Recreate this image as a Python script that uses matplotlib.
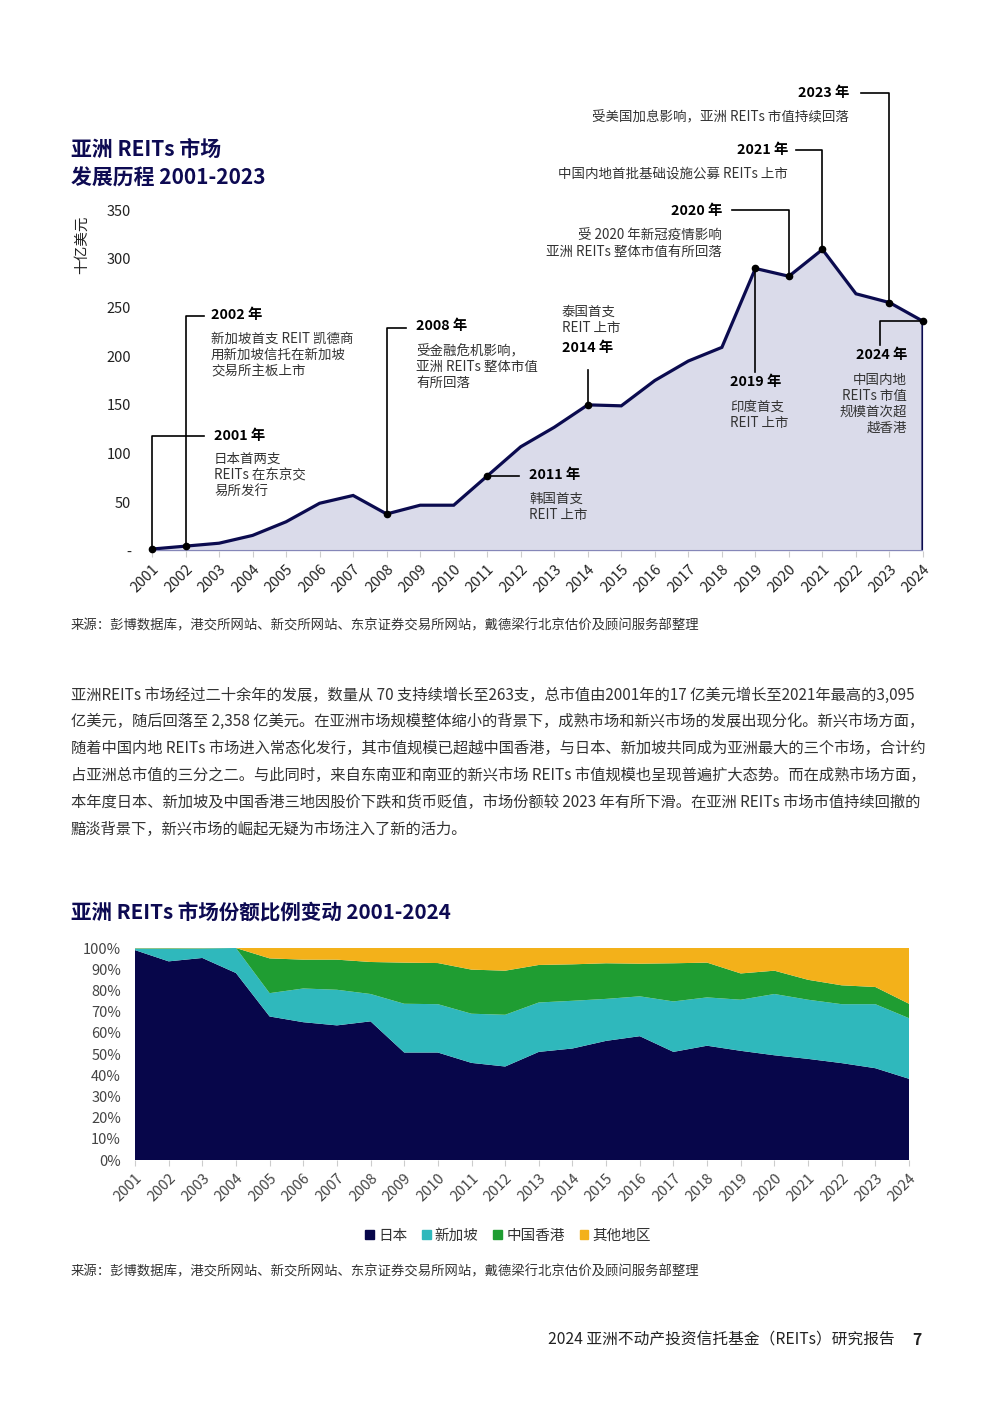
import matplotlib
matplotlib.use('Agg')
import matplotlib.pyplot as plt
from matplotlib.transforms import Affine2D
from matplotlib.patches import Patch

plt.rcParams['font.family'] = ['Noto Sans CJK SC', 'DejaVu Sans']

W, H = 992, 1403

# market cap of Asian REITs, USD bn
years = list(range(2001, 2025))
market_cap = [2, 5, 8, 16, 30, 49, 57, 38, 47, 47, 77, 107, 127, 150, 149,
              175, 195, 209, 290, 282, 309.5, 264, 255, 235.8]

# market share, %
share_japan = [99.0, 93.7, 95.3, 88.2, 67.7, 65.0, 63.5, 65.4, 50.7, 50.7, 45.8, 44.1,
               51.0, 52.6, 56.2, 58.4, 51.0, 53.9, 51.5, 49.4, 47.7, 45.7, 43.3, 38.3]
share_singapore = [0.8, 6.0, 4.5, 11.8, 11.0, 15.9, 16.8, 12.9, 23.0, 22.8, 23.2, 24.4,
                   23.3, 22.5, 19.8, 18.8, 23.8, 22.8, 24.1, 28.9, 27.9, 27.8, 30.2, 28.6]
share_hongkong = [0.1, 0.2, 0.1, 0.0, 16.4, 13.6, 14.2, 15.1, 19.4, 19.4, 20.8, 20.8,
                  17.7, 17.2, 16.8, 15.4, 18.0, 16.4, 12.4, 11.0, 9.4, 8.9, 8.1, 6.8]
share_other = [0.1, 0.1, 0.1, 0.0, 4.9, 5.5, 5.5, 6.6, 6.9, 7.1, 10.2, 10.7,
               8.0, 7.7, 7.2, 7.4, 7.2, 6.9, 12.0, 10.7, 15.0, 17.6, 18.4, 26.3]
share_labels = ['日本', '新加坡', '中国香港', '其他地区']
share_colors = ['#07064a', '#2fb8bc', '#1f9d32', '#f3b11a']

NAVY = '#0b0b4f'
TXT = '#333333'

fig = plt.figure(figsize=(W / 100, H / 100), dpi=100)
pix = Affine2D().scale(1 / W, -1 / H).translate(0, 1) + fig.transFigure


def box(l, t, r, b):
    return [l / W, 1 - b / H, (r - l) / W, (b - t) / H]


def txt(x, y, s, **kw):
    kw.setdefault('va', 'center')
    kw.setdefault('color', TXT)
    kw.setdefault('fontsize', 9)
    fig.text(x, y, s, transform=pix, **kw)


# ---------------- top chart ----------------
txt(71, 149, '亚洲 REITs 市场', fontsize=15, fontweight='bold', color='#0d0a52')
txt(71, 178, '发展历程 2001-2023', fontsize=15, fontweight='bold', color='#0d0a52')

ax = fig.add_axes(box(152, 210, 923, 551))
ax.fill_between(years, market_cap, 0, color='#dadbea', lw=0)
ax.plot(years + [years[-1]], market_cap + [0], color=NAVY, lw=2.3, solid_joinstyle='miter')
ax.axhline(0, color='#8587b8', lw=1.5)
ax.set_xlim(2001, 2024)
ax.set_ylim(0, 350)
for s in ax.spines.values():
    s.set_visible(False)
ax.set_yticks(range(0, 351, 50))
ax.set_yticklabels(['-'] + [str(v) for v in range(50, 351, 50)])
ax.tick_params(axis='y', length=0, pad=15, labelsize=10.5, labelcolor='#222222')
ax.set_xticks(years)
ax.set_xticklabels([str(y) for y in years], rotation=45, ha='right', va='top',
                   rotation_mode='anchor')
ax.tick_params(axis='x', length=4, color='#cccccc', labelsize=10.5, labelcolor='#222222', pad=4)
txt(82, 245, '十亿美元', rotation=90, ha='center', fontsize=10.5, color='#222222')

val = dict(zip(years, market_cap))
leaders = {
    2001: [(2001, 118), (2002.55, 118)],
    2002: [(2002, 241), (2002.55, 241)],
    2008: [(2008, 229), (2008.57, 229)],
    2011: [(2011.95, None)],
    2014: [(2014, 186)],
    2019: [(2019, 184)],
    2020: [(2020, 350), (2018.30, 350)],
    2021: [(2021, 412), (2020.21, 412)],
    2023: [(2023, 470), (2022.15, 470)],
    2024: [(2022.72, None), (2022.72, 211.5)],
}
for yr, route in leaders.items():
    xs, ys = [yr], [val[yr]]
    for x, y in route:
        xs.append(x)
        ys.append(val[yr] if y is None else y)
    ax.plot(xs, ys, color='black', lw=1.2, clip_on=False, zorder=4)
    ax.plot(yr, val[yr], 'o', color='black', ms=4.5, clip_on=False, zorder=5)

B = dict(fontweight='bold', color='black', fontsize=10.3)
S = dict(fontsize=9.7, color=TXT)

txt(214, 436, '2001 年', **B)
for y, s in zip([459, 475, 491], ['日本首两支', 'REITs 在东京交', '易所发行']):
    txt(214, y, s, **S)
txt(211, 315, '2002 年', **B)
for y, s in zip([339, 355, 371], ['新加坡首支 REIT 凯德商', '用新加坡信托在新加坡', '交易所主板上市']):
    txt(211, y, s, **S)
txt(416, 326, '2008 年', **B)
for y, s in zip([351, 367, 383], ['受金融危机影响，', '亚洲 REITs 整体市值', '有所回落']):
    txt(416, y, s, **S)
txt(529, 475, '2011 年', **B)
for y, s in zip([499, 515], ['韩国首支', 'REIT 上市']):
    txt(529, y, s, **S)
for y, s in zip([312, 328], ['泰国首支', 'REIT 上市']):
    txt(562, y, s, **S)
txt(562, 348, '2014 年', **B)
txt(730, 382, '2019 年', **B)
for y, s in zip([407, 423], ['印度首支', 'REIT 上市']):
    txt(730, y, s, **S)
txt(722, 211, '2020 年', ha='right', **B)
for y, s in zip([236, 252], ['受 2020 年新冠疫情影响', '亚洲 REITs 整体市值有所回落']):
    txt(722, y, s, ha='right', **S)
txt(788, 150, '2021 年', ha='right', **B)
txt(788, 174, '中国内地首批基础设施公募 REITs 上市', ha='right', **S)
txt(849, 93, '2023 年', ha='right', **B)
txt(849, 117, '受美国加息影响，亚洲 REITs 市值持续回落', ha='right', **S)
txt(907, 355, '2024 年', ha='right', **B)
for y, s in zip([380, 396, 412, 428], ['中国内地', 'REITs 市值', '规模首次超', '越香港']):
    txt(907, y, s, ha='right', **S)

source = '来源：彭博数据库，港交所网站、新交所网站、东京证券交易所网站，戴德梁行北京估价及顾问服务部整理'
txt(71, 625, source, fontsize=9.6, color=TXT)

# ---------------- body text ----------------
body = [
    '亚洲REITs 市场经过二十余年的发展，数量从 70 支持续增长至263支，总市值由2001年的17 亿美元增长至2021年最高的3,095',
    '亿美元，随后回落至 2,358 亿美元。在亚洲市场规模整体缩小的背景下，成熟市场和新兴市场的发展出现分化。新兴市场方面，',
    '随着中国内地 REITs 市场进入常态化发行，其市值规模已超越中国香港，与日本、新加坡共同成为亚洲最大的三个市场，合计约',
    '占亚洲总市值的三分之二。与此同时，来自东南亚和南亚的新兴市场 REITs 市值规模也呈现普遍扩大态势。而在成熟市场方面，',
    '本年度日本、新加坡及中国香港三地因股价下跌和货币贬值，市场份额较 2023 年有所下滑。在亚洲 REITs 市场市值持续回撤的',
    '黯淡背景下，新兴市场的崛起无疑为市场注入了新的活力。',
]
for i, line in enumerate(body):
    txt(71, 695 + i * 26.8, line, fontsize=11, color=TXT)

# ---------------- bottom chart ----------------
txt(71, 912, '亚洲 REITs 市场份额比例变动 2001-2024', fontsize=14.8, fontweight='bold', color='#0d0a52')

ax2 = fig.add_axes(box(135, 948, 909, 1160))
ax2.stackplot(years, share_japan, share_singapore, share_hongkong, share_other,
              colors=share_colors, lw=0)
ax2.set_xlim(2001, 2024)
ax2.set_ylim(0, 100)
for s in ax2.spines.values():
    s.set_visible(False)
ax2.set_yticks(range(0, 101, 10))
ax2.set_yticklabels([f'{v}%' for v in range(0, 101, 10)])
ax2.tick_params(axis='y', length=0, pad=10, labelsize=10.5, labelcolor='#444444')
ax2.set_xticks(years)
ax2.set_xticklabels([str(y) for y in years], rotation=45, ha='right', va='top',
                    rotation_mode='anchor')
ax2.tick_params(axis='x', length=4, color='#cccccc', labelsize=10.5, labelcolor='#444444', pad=4)

handles = [Patch(color=c, label=l) for c, l in zip(share_colors, share_labels)]
fig.legend(handles=handles, loc='center', bbox_to_anchor=(508 / W, 1 - 1236 / H), ncol=4,
           frameon=False, fontsize=10.5, handlelength=0.6, handleheight=0.6,
           handletextpad=0.3, columnspacing=1.0, labelcolor='#333333')

txt(71, 1271, source, fontsize=9.6, color=TXT)

txt(895, 1340, '2024 亚洲不动产投资信托基金（REITs）研究报告', ha='right', fontsize=11.3, color='#222222')
txt(917, 1340, '7', ha='center', fontsize=11.3, fontweight='bold', color='#222222')

fig.savefig('out.png', dpi=100)
